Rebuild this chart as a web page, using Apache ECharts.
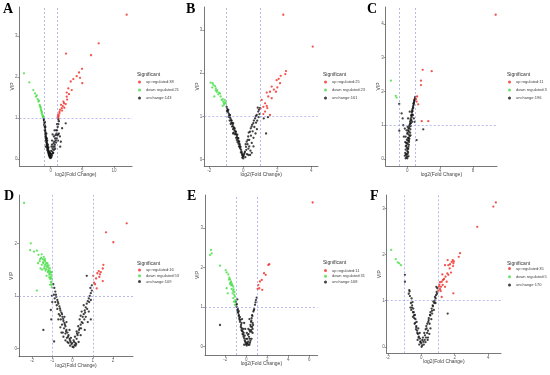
<!DOCTYPE html>
<html><head><meta charset="utf-8">
<script src="https://cdn.jsdelivr.net/npm/echarts@6/dist/echarts.min.js"></script>
<style>html,body{margin:0;padding:0;background:#fff}#c{width:550px;height:375px}</style>
</head><body><div id="c"></div>
<script>
// ---------- DATA ----------
const panelLetters = ['A','B','C','D','E','F'];
const upCounts = [38, 25, 11, 16, 11, 35];
const downCounts = [21, 23, 3, 53, 31, 5];
const unCounts = [143, 161, 196, 109, 168, 170];
const fcThresholds = [-1, 1];
const vipThreshold = 1;

const xTicksA = [0, 5, 10], yTicksA = [0, 1, 2, 3];
const xTicksB = [-2, 0, 2, 4], yTicksB = [0, 1, 2, 3];
const xTicksC = [0, 4, 8], yTicksC = [0, 1, 2, 3, 4];
const xTicksD = [-2, -1, 0, 1, 2], yTicksD = [0, 1, 2];
const xTicksE = [-2, 0, 2, 4, 6], yTicksE = [0, 1, 2, 3];
const xTicksF = [-2, 0, 2, 4], yTicksF = [0, 1, 2, 3];

const A_up = [[12.0,3.52],[7.58,2.82],[6.37,2.53],[2.42,2.57],[4.94,2.20],[4.47,2.11],[4.1,2.02],[3.57,1.95],[4.63,1.98],[4.99,1.85],[3.16,1.89],[2.78,1.72],[3.32,1.68],[2.53,1.62],[2.89,1.58],[2.53,1.52],[2.1,1.36],[2.37,1.34],[1.9,1.29],[1.74,1.24],[1.47,1.20],[1.36,1.11],[1.26,1.05],[1.15,1.07],[2.15,1.25],[1.63,1.32],[2.0,1.40],[1.8,1.18],[1.2,1.0],[1.4,1.15],[2.6,1.45],[1.1,1.02]];
const A_down = [[-4.22,2.09],[-3.38,1.87],[-2.75,1.68],[-2.48,1.60],[-2.32,1.52],[-2.06,1.46],[-1.85,1.42],[-1.69,1.29],[-1.58,1.24],[-1.48,1.17],[-1.42,1.11],[-1.32,1.07],[-1.26,1.03],[-1.16,1.02],[-2.2,1.55],[-1.95,1.40],[-1.75,1.32],[-1.62,1.27],[-1.52,1.20],[-1.38,1.14],[-1.2,1.05]];
const A_un = [[-1.1,0.98],[-1.05,0.93],[-1.0,0.88],[-1.02,0.84],[-0.95,0.8],[-0.92,0.76],[-0.9,0.72],[-0.86,0.68],[-0.82,0.64],[-0.8,0.6],[-0.76,0.56],[-0.72,0.52],[-0.7,0.48],[-0.66,0.44],[-0.62,0.4],[-0.58,0.37],[-0.54,0.33],[-0.5,0.3],[-0.46,0.27],[-0.42,0.24],[-0.38,0.21],[-0.34,0.18],[-0.3,0.16],[-0.26,0.13],[-0.22,0.1],[-0.18,0.08],[-0.12,0.06],[-0.08,0.04],[-0.04,0.02],[0.0,0.05],[0.05,0.1],[-0.6,0.5],[-0.84,0.78],[-0.9,0.9],[-0.68,0.62],[-0.55,0.45],[-0.45,0.35],[-0.35,0.28],[-0.2,0.18],[-0.78,0.3],[-0.1,0.15],[0.1,0.04],[0.15,0.12],[0.2,0.08],[0.25,0.18],[0.3,0.25],[0.35,0.14],[0.4,0.3],[0.5,0.22],[0.45,0.38],[0.55,0.42],[0.6,0.3],[0.7,0.5],[0.65,0.35],[0.8,0.45],[0.75,0.58],[0.9,0.62],[0.85,0.4],[1.0,0.7],[0.95,0.5],[1.1,0.78],[1.05,0.58],[1.2,0.85],[1.15,0.45],[1.3,0.92],[1.3,0.62],[1.45,0.55],[1.6,0.42],[2.37,0.87],[1.8,0.75],[1.5,0.3],[0.3,0.6],[0.6,0.7],[0.2,0.35],[1.2,0.97],
  [-1.08,0.95],[-0.98,0.82],[-0.94,0.7],[-0.88,0.62],[-0.84,0.55],[-0.78,0.5],[-0.74,0.45],[-0.68,0.4],[-0.64,0.35],[-0.6,0.3],[-0.56,0.26],[-0.52,0.22],[-0.48,0.2],[-0.4,0.15],[-0.32,0.12],[-0.28,0.08],[-0.16,0.04],[0.08,0.2],[0.12,0.3],[0.22,0.45],[0.5,0.55],[0.85,0.7],[1.0,0.85],[1.15,0.6],[0.7,0.25],[0.4,0.15],[-0.02,0.12],[-0.14,0.14]];

const B_up = [[2.35,3.36],[4.08,2.62],[2.51,2.05],[2.47,1.98],[2.2,1.94],[2.08,1.87],[1.96,1.84],[2.16,1.77],[2.0,1.67],[1.92,1.57],[1.67,1.69],[1.57,1.57],[1.38,1.55],[1.47,1.46],[1.67,1.42],[1.08,1.38],[1.28,1.30],[1.18,1.22],[1.38,1.24],[1.41,1.19],[1.28,1.11],[1.18,1.05],[1.57,1.03],[1.02,1.18],[1.8,1.62]];
const B_down = [[-1.92,1.78],[-1.80,1.77],[-1.76,1.73],[-1.82,1.67],[-1.66,1.70],[-1.61,1.65],[-1.53,1.61],[-1.56,1.57],[-1.70,1.46],[-1.47,1.51],[-1.37,1.53],[-1.33,1.46],[-1.27,1.38],[-1.21,1.40],[-1.18,1.34],[-1.14,1.30],[-1.21,1.24],[-1.09,1.38],[-1.06,1.33],[-1.44,1.55],[-1.62,1.6],[-1.12,1.27],[-1.03,1.3]];
const B_un = [[-0.98,1.22],[-0.95,1.18],[-0.92,1.14],[-0.9,1.1],[-0.88,1.15],[-0.85,1.06],[-0.82,1.02],[-0.78,1.03],[-0.8,0.98],[-0.75,0.95],[-0.72,0.91],[-0.68,0.9],[-0.7,0.86],[-0.65,0.84],[-0.62,0.8],[-0.59,0.84],[-0.58,0.76],[-0.55,0.73],[-0.5,0.72],[-0.52,0.68],[-0.47,0.65],[-0.43,0.64],[-0.45,0.6],[-0.4,0.57],[-0.35,0.57],[-0.37,0.52],[-0.32,0.49],[-0.29,0.49],[-0.3,0.44],[-0.26,0.41],[-0.24,0.41],[-0.22,0.36],[-0.2,0.33],[-0.16,0.29],[-0.18,0.25],[-0.13,0.22],[-0.1,0.18],[-0.08,0.14],[-0.04,0.1],[-0.02,0.06],[0,0.02],[0.02,0.08],[-0.06,0.04],[0.05,0.12],[0.1,0.18],[0.12,0.05],[0.16,0.29],[0.2,0.41],[0.18,0.22],[0.22,0.12],[0.29,0.53],[0.25,0.35],[0.3,0.25],[0.35,0.45],[0.39,0.64],[0.42,0.2],[0.45,0.55],[0.49,0.76],[0.5,0.38],[0.55,0.65],[0.59,0.84],[0.6,0.5],[0.65,0.75],[0.69,0.95],[0.72,0.6],[0.75,0.85],[0.79,1.03],[0.82,0.9],[0.88,1.11],[0.9,0.98],[0.98,1.19],[0.95,1.05],[0.85,1.2],[1.34,0.6],[1.2,0.95],[1.45,0.98],[0.4,0.1],[0.35,0.3],[-0.6,0.6],[-0.25,0.3],
  [-0.96,1.12],[-0.86,0.99],[-0.8,0.9],[-0.74,0.82],[-0.66,0.76],[-0.6,0.7],[-0.56,0.62],[-0.49,0.58],[-0.42,0.5],[-0.38,0.45],[-0.34,0.4],[-0.28,0.36],[-0.2,0.28],[-0.14,0.16],[-0.06,0.1],[0.08,0.15],[0.14,0.35],[0.26,0.45],[0.32,0.62],[0.44,0.72],[0.52,0.8],[0.62,0.9],[0.74,1.0],[0.8,0.7],[0.6,0.3],[0.5,0.15],[0.3,0.1],[0.92,1.15]];

const C_up = [[10.78,4.27],[1.88,2.64],[2.98,2.60],[1.67,2.32],[1.67,2.19],[1.06,1.77],[1.14,1.70],[1.34,1.62],[1.76,1.12],[2.56,1.12],[1.2,1.85]];
const C_down = [[-1.99,2.32],[-1.41,1.87],[-1.29,1.82]];
const C_un = [[-0.2,0.02],[-0.1,0.05],[0,0.08],[-0.15,0.12],[0.05,0.15],[-0.25,0.18],[0.1,0.2],[0,0.24],[-0.2,0.28],[0.12,0.3],[-0.05,0.33],[0.15,0.36],[-0.1,0.4],[0.2,0.42],[0.05,0.45],[-0.15,0.48],[0.22,0.5],[0.1,0.54],[-0.05,0.57],[0.25,0.6],[0.15,0.63],[-0.2,0.66],[0.3,0.68],[0.18,0.72],[0,0.75],[0.35,0.78],[0.2,0.82],[-0.1,0.85],[0.38,0.88],[0.25,0.92],[0.05,0.95],[0.42,0.98],[0.3,1.02],[0.45,1.06],[0.35,1.1],[0.5,1.15],[0.42,1.2],[0.55,1.24],[0.48,1.28],[0.6,1.32],[0.55,1.38],[0.65,1.42],[0.62,1.47],[0.72,1.52],[0.7,1.56],[0.78,1.6],[0.75,1.64],[0.82,1.68],[0.86,1.72],[0.9,1.76],[0.94,1.8],[0.97,1.84],[-0.98,1.63],[-0.69,1.35],[-0.56,1.2],[-0.98,0.84],[-0.49,1.0],[1.95,0.88],[1.14,0.56],[-0.42,0.66],[-0.3,0.9],[0.1,1.2],[0.3,1.4],[0.8,1.2],[0.9,1.1],[-0.25,0.5],[0.4,0.7],[-0.3,0.1],[0.15,0.08],[0.6,1.1],[0.7,1.3],
  [-0.1,0.15],[0.05,0.3],[-0.05,0.48],[0.1,0.62],[0.05,0.78],[0.15,0.9],[0.25,0.98],[0.35,1.05],[0.4,1.15],[0.5,1.3],[0.58,1.42],[0.68,1.5],[0.8,1.65],[0.88,1.75],[0,0.02],[0.2,0.55],[-0.18,0.38],[0.1,0.85]];

const D_up = [[2.67,2.38],[1.65,2.21],[2.01,2.02],[1.52,1.59],[1.49,1.52],[1.39,1.45],[1.35,1.41],[1.22,1.43],[1.32,1.36],[1.16,1.33],[1.49,1.28],[1.06,1.25],[1.11,1.22],[1.19,1.14],[1.02,1.38],[1.29,1.47]];
const D_down = [[-2.39,2.77],[-2.06,2.0],[-2.09,1.87],[-1.76,1.86],[-1.68,1.78],[-1.52,1.79],[-1.6,1.70],[-1.47,1.70],[-1.40,1.68],[-1.35,1.66],[-1.44,1.62],[-1.52,1.59],[-1.35,1.59],[-1.27,1.55],[-1.19,1.54],[-1.40,1.52],[-1.31,1.51],[-1.19,1.47],[-1.11,1.47],[-1.03,1.45],[-1.14,1.43],[-1.05,1.40],[-1.07,1.36],[-1.03,1.33],[-1.04,1.27],[-1.03,1.21],[-1.11,1.21],[-1.76,1.10],[-1.45,1.64],[-1.3,1.62],[-1.25,1.58],[-1.38,1.56],[-1.2,1.5],[-1.15,1.4],[-1.08,1.44],[-1.1,1.32],[-1.22,1.45],[-1.33,1.48],[-1.55,1.72],[-1.42,1.74],[-1.9,1.84],[-1.62,1.66],[-1.28,1.38],[-1.5,1.5],[-1.15,1.35],[-1.06,1.25],[-1.24,1.62],[-1.36,1.7],[-1.18,1.58],[-1.12,1.52],[-1.02,1.16],[-1.7,1.62],[-1.58,1.52]];
const D_un = [[-0.95,1.22],[-0.9,1.15],[-0.85,1.08],[-0.92,1.02],[-0.8,0.98],[-0.75,0.92],[-0.85,0.88],[-0.7,0.85],[-0.65,0.8],[-0.75,0.75],[-0.6,0.72],[-0.55,0.68],[-0.68,0.65],[-0.5,0.6],[-0.58,0.55],[-0.45,0.52],[-0.4,0.48],[-0.52,0.45],[-0.35,0.42],[-0.42,0.38],[-0.3,0.35],[-0.25,0.3],[-0.35,0.28],[-0.2,0.25],[-0.28,0.2],[-0.15,0.18],[-0.1,0.12],[-0.2,0.1],[-0.05,0.08],[-0.12,0.05],[0,0.03],[0.05,0.02],[-0.6,0.4],[-0.48,0.3],[-0.7,0.55],[-0.3,0.5],[-0.35,0.15],[-0.15,0.35],[-0.88,0.95],[-0.78,0.82],[-0.62,0.62],[-0.45,0.22],[-0.25,0.12],[-0.08,0.2],[0.1,0.06],[0.15,0.1],[0.05,0.15],[0.2,0.18],[0.12,0.22],[0.25,0.25],[0.3,0.3],[0.2,0.32],[0.35,0.38],[0.28,0.42],[0.4,0.45],[0.45,0.5],[0.35,0.55],[0.5,0.6],[0.55,0.65],[0.45,0.7],[0.6,0.72],[0.65,0.78],[0.55,0.82],[0.7,0.85],[0.75,0.9],[0.8,0.95],[0.85,1.0],[0.9,1.05],[0.95,1.1],[0.88,1.15],[0.95,1.2],[0.7,1.38],[0.9,0.55],[0.75,0.5],[0.6,0.35],[0.3,0.12],[0.15,0.05],[0.4,0.25],[0.65,0.6],[0.8,0.7],[-1.44,0.35],[-0.91,0.13],[-1.07,0.73],[-1.05,0.55],[-1.0,0.88],[-1.02,1.0],
  [-0.82,1.02],[-0.72,0.88],[-0.62,0.76],[-0.52,0.65],[-0.46,0.56],[-0.38,0.45],[-0.32,0.32],[-0.22,0.22],[-0.12,0.15],[-0.02,0.1],[0.08,0.12],[0.18,0.08],[0.22,0.28],[0.32,0.35],[0.42,0.38],[0.5,0.48],[0.58,0.55],[0.62,0.68],[0.72,0.75],[0.82,0.88],[0.9,0.92],[-0.55,0.3],[0.4,0.62],[-0.4,0.6]];

const E_up = [[6.32,3.65],[2.19,2.09],[2.1,2.07],[1.69,1.86],[1.85,1.82],[1.47,1.69],[1.30,1.65],[1.14,1.56],[1.08,1.46],[1.52,1.44],[1.24,1.48]];
const E_down = [[-3.36,2.45],[-3.3,2.36],[-3.46,2.32],[-2.5,2.05],[-1.96,1.94],[-1.87,1.88],[-1.71,1.83],[-1.62,1.75],[-1.55,1.71],[-1.46,1.65],[-1.39,1.60],[-1.55,1.59],[-1.33,1.56],[-1.24,1.52],[-1.39,1.46],[-1.24,1.41],[-1.3,1.35],[-1.77,1.35],[-1.14,1.31],[-1.08,1.27],[-1.24,1.23],[-1.05,1.18],[-1.17,1.14],[-1.08,1.06],[-1.87,1.48],[-1.5,1.62],[-1.42,1.55],[-1.2,1.45],[-1.12,1.38],[-1.65,1.7],[-1.02,1.12]];
const E_un = [[-0.98,1.14],[-0.92,1.01],[-0.86,0.93],[-0.76,0.85],[-0.67,0.72],[-0.6,0.63],[-0.5,0.55],[-0.44,0.47],[-0.34,0.38],[-0.29,0.30],[-0.19,0.21],[-0.1,0.13],[0.04,0.03],[-0.9,1.08],[-0.8,0.95],[-0.7,0.8],[-0.55,0.68],[-0.45,0.6],[-0.4,0.4],[-0.25,0.35],[-0.15,0.28],[-0.05,0.1],[0,0.2],[-0.3,0.45],[-0.6,0.75],[-0.85,1.2],[-0.72,0.9],[-0.2,0.05],[0.1,0.08],[0.19,0.13],[0.26,0.25],[0.35,0.38],[0.42,0.51],[0.45,0.63],[0.51,0.72],[0.67,0.89],[0.83,1.06],[0.92,1.18],[0.99,1.24],[0.5,0.2],[0.6,0.35],[0.2,0.45],[-0.2,0.6],[0.3,0.7],[0.1,0.1],[-0.4,0.7],[0.55,0.5],[0.65,0.55],[0.3,0.05],[0.4,0.15],[0.15,0.3],[0.55,0.8],[0.75,0.95],[0.6,0.6],[0.45,0.42],[0.35,0.2],[-2.5,0.55],[0.05,0.35],[-0.1,0.45],
  [-0.95,1.06],[-0.82,0.88],[-0.72,0.78],[-0.64,0.68],[-0.52,0.5],[-0.46,0.42],[-0.36,0.32],[-0.26,0.25],[-0.14,0.16],[-0.02,0.06],[0.12,0.2],[0.22,0.32],[0.3,0.42],[0.4,0.55],[0.48,0.66],[0.58,0.78],[0.72,0.92],[0.88,1.12],[0.5,0.38],[0.6,0.45],[0.35,0.1],[0.2,0.05]];

const F_up = [[4.46,3.13],[4.31,3.04],[3.35,2.60],[2.32,2.03],[2.24,1.95],[1.88,1.88],[1.92,1.81],[1.82,1.84],[1.72,1.79],[1.58,1.88],[1.62,1.77],[1.42,1.77],[1.78,1.61],[1.56,1.59],[1.26,1.57],[1.36,1.47],[1.22,1.41],[1.12,1.40],[1.08,1.34],[1.18,1.30],[1.28,1.34],[1.12,1.25],[1.42,1.30],[1.52,1.41],[1.62,1.56],[1.92,1.16],[1.22,1.08],[1.16,1.21],[1.9,1.75],[1.05,1.3],[1.3,1.45],[1.7,1.7],[1.45,1.52],[1.02,1.22],[1.95,1.85]];
const F_down = [[-1.80,2.10],[-1.53,1.90],[-1.41,1.83],[-1.32,1.81],[-1.22,1.77]];
const F_un = [[-0.98,1.56],[-0.98,1.41],[-0.72,1.23],[-0.7,1.2],[-0.58,1.05],[-0.52,0.97],[-0.48,0.83],[-0.38,0.69],[-0.28,0.54],[-0.18,0.40],[-0.08,0.18],[0.02,0.0],[-0.55,0.9],[-0.6,0.8],[-0.45,0.75],[-0.5,0.65],[-0.35,0.6],[-0.4,0.5],[-0.3,0.45],[-0.25,0.35],[-0.2,0.28],[-0.15,0.22],[-0.1,0.3],[-0.05,0.12],[0,0.08],[-0.12,0.05],[0.05,0.03],[-0.65,0.85],[-0.42,0.62],[-0.32,0.38],[-0.22,0.15],[-0.75,1.15],[0.12,0.11],[0.22,0.25],[0.32,0.40],[0.42,0.54],[0.52,0.69],[0.62,0.83],[0.72,0.98],[0.82,1.08],[0.92,1.19],[0.96,1.27],[0.15,0.05],[0.2,0.15],[0.28,0.2],[0.35,0.3],[0.3,0.45],[0.4,0.35],[0.45,0.62],[0.5,0.5],[0.55,0.75],[0.6,0.6],[0.68,0.9],[0.75,0.8],[0.8,1.0],[0.88,1.12],[0.65,0.72],[0.1,0.2],[0.25,0.1],[1.58,0.72],[0.85,0.95],[0.9,1.3],[0.38,0.15],[0.48,0.28],
  [-0.68,1.1],[-0.62,0.95],[-0.56,0.85],[-0.5,0.75],[-0.44,0.68],[-0.36,0.52],[-0.3,0.42],[-0.24,0.3],[-0.16,0.2],[-0.06,0.1],[0.06,0.15],[0.18,0.3],[0.26,0.38],[0.36,0.5],[0.44,0.58],[0.54,0.68],[0.64,0.78],[0.7,0.88],[0.78,0.95],[0.86,1.05],[0.94,1.15],[0.4,0.2],[0.55,0.4]];

// ---------- LAYOUT ----------
const layout = [
  {g:[19.5,7,112.5,159],  x:[-4.93,12.84], y:[-0.171,3.707], xt:xTicksA, yt:yTicksA, lt:[3,2],   sig:[137,72], leg:[138,79.5], gap:3},
  {g:[204.3,7,113.7,159], x:[-2.29,4.39],  y:[-0.156,3.54],  xt:xTicksB, yt:yTicksB, lt:[186,2], sig:[323,72], leg:[324,79.5], gap:3},
  {g:[385.7,7,111.3,159], x:[-2.63,10.94], y:[-0.207,4.50],  xt:xTicksC, yt:yTicksC, lt:[367,2], sig:[507,72], leg:[508,79.5], gap:3},
  {g:[19,195,114,161.7],  x:[-2.64,2.98],  y:[-0.16,2.92],   xt:xTicksD, yt:yTicksD, lt:[4,189], sig:[137,261], leg:[138,267.5], gap:0.8},
  {g:[205,195,112.7,160], x:[-3.93,6.8],   y:[-0.21,3.84],   xt:xTicksE, yt:yTicksE, lt:[187,189],sig:[323,260], leg:[324,268], gap:0.8},
  {g:[386.7,195,114.3,158.3], x:[-2.07,4.77], y:[-0.14,3.29], xt:xTicksF, yt:yTicksF, lt:[370,189],sig:[507,261], leg:[508,266], gap:3.2}
];
const ups = [A_up,B_up,C_up,D_up,E_up,F_up];
const downs = [A_down,B_down,C_down,D_down,E_down,F_down];
const uns = [A_un,B_un,C_un,D_un,E_un,F_un];

const RED = '#ee2a22', GREEN = '#44dd44', BLACK = '#111', AX = '#555';
const grid = [], xAxis = [], yAxis = [], series = [], legend = [], title = [];
layout.forEach((L, i) => {
  grid.push({left:L.g[0], top:L.g[1], width:L.g[2], height:L.g[3], containLabel:false, outerBoundsMode:'none'});
  xAxis.push({gridIndex:i, type:'value', min:L.x[0], max:L.x[1],
    axisLine:{show:true, onZero:false, lineStyle:{color:AX, width:0.8}},
    axisTick:{show:true, length:2, customValues:L.xt, lineStyle:{color:AX, width:0.6}},
    axisLabel:{customValues:L.xt, fontSize:4.5, color:'#666', margin:2},
    splitLine:{show:false},
    name:'log2(Fold Change)', nameLocation:'middle', nameGap:6, nameMoveOverlap:false,
    nameTextStyle:{fontSize:5, color:'#444'}});
  yAxis.push({gridIndex:i, type:'value', min:L.y[0], max:L.y[1],
    axisLine:{show:true, onZero:false, lineStyle:{color:AX, width:0.8}},
    axisTick:{show:true, length:2, customValues:L.yt, lineStyle:{color:AX, width:0.6}},
    axisLabel:{customValues:L.yt, fontSize:4.5, color:'#666', margin:2},
    splitLine:{show:false},
    name:'VIP', nameLocation:'middle', nameGap:4.5, nameMoveOverlap:false,
    nameTextStyle:{fontSize:5, color:'#444'}});
  const nUp = 'up regulated:' + upCounts[i];
  const nDown = 'down regulated:' + downCounts[i];
  const nUn = 'unchange:' + unCounts[i];
  series.push({type:'scatter', name:nUn, xAxisIndex:i, yAxisIndex:i, data:uns[i], symbolSize:2.3,
    itemStyle:{color:BLACK}, silent:true,
    markLine:{silent:true, symbol:'none', label:{show:false}, animation:false,
      lineStyle:{type:[2,2], color:'#8c8cdc', width:0.6},
      data:[{xAxis:fcThresholds[0]},{xAxis:fcThresholds[1]},{yAxis:vipThreshold}]}});
  series.push({type:'scatter', name:nDown, xAxisIndex:i, yAxisIndex:i, data:downs[i], symbolSize:2.3, itemStyle:{color:GREEN}, silent:true});
  series.push({type:'scatter', name:nUp, xAxisIndex:i, yAxisIndex:i, data:ups[i], symbolSize:2.3, itemStyle:{color:RED}, silent:true});
  legend.push({data:[nUp, nDown, nUn], orient:'vertical', left:L.leg[0], top:L.leg[1], padding:0,
    itemWidth:3, itemHeight:3, itemGap:L.gap, icon:'circle', selectedMode:false,
    textStyle:{fontSize:4, lineHeight:5, color:'#444'}});
  title.push({text:panelLetters[i], left:L.lt[0], top:L.lt[1], padding:0,
    textStyle:{fontFamily:'Liberation Serif', fontWeight:'bold', fontSize:14, color:'#000'}});
  title.push({text:'Significant', left:L.sig[0], top:L.sig[1], padding:0,
    textStyle:{fontSize:5, fontWeight:'normal', color:'#333'}});
});

const chart = echarts.init(document.getElementById('c'), null, {renderer:'canvas'});
chart.setOption({animation:false, backgroundColor:'#fff', title, legend, grid, xAxis, yAxis, series});
</script></body></html>
